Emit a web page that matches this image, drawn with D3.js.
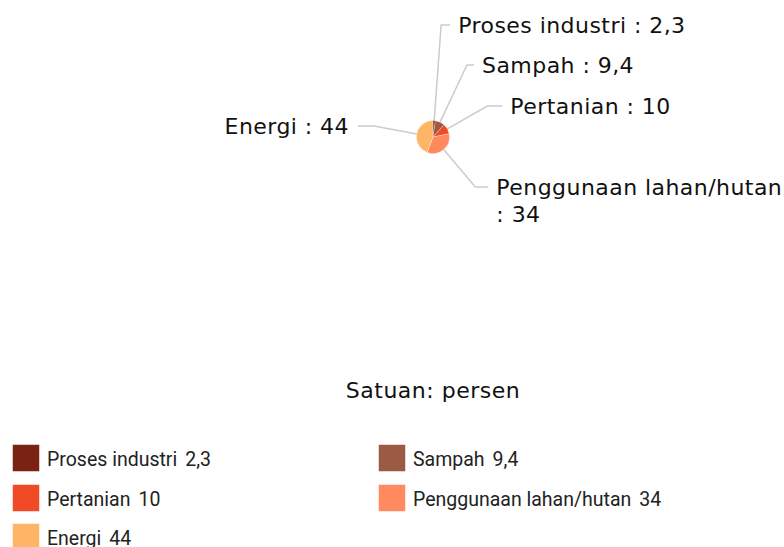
<!DOCTYPE html>
<html>
<head>
<meta charset="utf-8">
<script src="https://cdn.jsdelivr.net/npm/d3@7"></script>
<style>
  body { margin: 0; background: #fff; }
  svg { display: block; }
</style>
</head>
<body>
<svg id="chart"></svg>
<script>
const categories = ['Proses industri', 'Sampah', 'Pertanian', 'Penggunaan lahan/hutan', 'Energi'];
const values = [2.3, 9.4, 10, 34, 44];
const valueLabels = ['2,3', '9,4', '10', '34', '44'];
const colors = ['#7a2214', '#9b5a44', '#f04a26', '#ff8a60', '#ffb566'];
const unitTitle = 'Satuan: persen';

const width = 784;
const height = 547;
const cx = 433, cy = 137, r = 16.5;
const labelFont = 'DejaVu Sans, Verdana, sans-serif';

const svg = d3.select('#chart')
    .attr('width', width)
    .attr('height', height);

const data = categories.map((c, i) => ({ name: c, value: values[i], label: valueLabels[i], color: colors[i] }));

const pie = d3.pie().value(d => d.value).sort(null);
const arcs = pie(data);
const arc = d3.arc().innerRadius(0).outerRadius(r);

const g = svg.append('g').attr('transform', `translate(${cx},${cy})`);

// label layout (y of label line, length of the horizontal part)
const labelY = [25, 65, 106, 187, 126];
const hLen = [9, 7, 15, 13, 16];

arcs.forEach((a, i) => {
    const mid = (a.startAngle + a.endAngle) / 2;
    const sx = Math.sin(mid) * r, sy = -Math.cos(mid) * r;
    const dy = labelY[i] - cy - sy;
    const dx = dy / (-Math.cos(mid)) * Math.sin(mid);
    const ex = sx + dx, ey = labelY[i] - cy;
    const right = Math.sin(mid) >= 0;
    const hx = ex + (right ? hLen[i] : -hLen[i]);
    g.append('polyline')
        .attr('points', `${sx},${sy} ${ex},${ey} ${hx},${ey}`)
        .attr('fill', 'none')
        .attr('stroke', '#cccccc')
        .attr('stroke-width', 1.5);

    const t = g.append('text')
        .attr('x', hx + (right ? 8 : -9))
        .attr('y', ey + 8)
        .attr('text-anchor', right ? 'start' : 'end')
        .attr('font-family', labelFont)
        .attr('font-size', 22)
        .attr('letter-spacing', 0.45)
        .attr('fill', '#111');
    if (a.data.name.length > 15 && right) {
        t.append('tspan').text(a.data.name);
        t.append('tspan').attr('x', hx + 8).attr('dy', 27).text(': ' + a.data.label);
    } else {
        t.text(`${a.data.name} : ${a.data.label}`);
    }
});

g.selectAll('path.slice')
    .data(arcs)
    .enter().append('path')
    .attr('class', 'slice')
    .attr('d', arc)
    .attr('fill', d => d.data.color)
    .attr('stroke', '#fff')
    .attr('stroke-width', 0.3);

svg.append('text')
    .attr('x', cx)
    .attr('y', 398)
    .attr('text-anchor', 'middle')
    .attr('font-family', labelFont)
    .attr('font-size', 22)
    .attr('letter-spacing', 0.5)
    .attr('fill', '#111')
    .text(unitTitle);

// legend
const colX = [12, 378];
const rowY = [444, 484, 523];
data.forEach((d, k) => {
    const x = colX[k % 2];
    const y = rowY[Math.floor(k / 2)];
    const item = svg.append('g').attr('transform', `translate(${x},${y})`);
    item.append('rect')
        .attr('x', 0.5).attr('y', 0.5)
        .attr('width', 27).attr('height', 27)
        .attr('fill', d.color)
        .attr('stroke', '#fff')
        .attr('stroke-opacity', 0.5);
    const t = item.append('text')
        .attr('x', 35)
        .attr('y', 22)
        .attr('font-family', 'Roboto, sans-serif')
        .attr('font-size', 19.5)
        .attr('fill', '#222');
    t.append('tspan').text(d.name);
    t.append('tspan').attr('dx', 8).text(d.label);
});
</script>
</body>
</html>
